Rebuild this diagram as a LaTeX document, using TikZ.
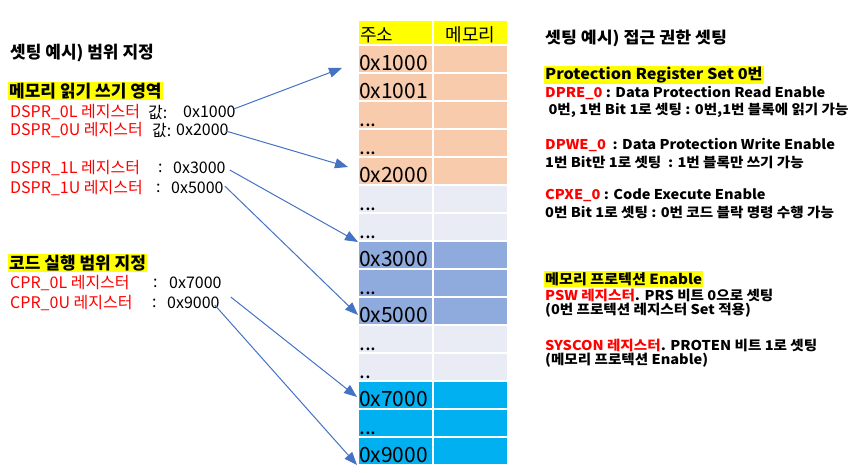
\documentclass[tikz,border=0pt]{standalone}
\usepackage{fontspec}
\setmainfont{Noto Sans CJK KR}
\newfontfamily\widefont[FakeStretch=1.08]{Noto Sans CJK KR}
\usetikzlibrary{arrows.meta}

\definecolor{hilite}{HTML}{FFFF00}
\definecolor{peach}{HTML}{F8CBAD}
\definecolor{pale}{HTML}{E9EBF5}
\definecolor{steel}{HTML}{8FAADC}
\definecolor{cyanblk}{HTML}{00B0F0}
\definecolor{arrowblue}{HTML}{4472C4}
\definecolor{regred}{HTML}{FF0000}

\newcommand\rowdots{...}
\newcommand\rowdotsb{..}

\tikzset{
  cell/.style={draw=none, inner sep=0, minimum width=73pt, minimum height=26pt, anchor=north west},
  celltext/.style={inner sep=0, anchor=base west, font=\fontsize{21}{24}\selectfont},
  lefttext/.style={inner sep=0, anchor=west, font=\fontsize{16}{19}\selectfont},
  lefthead/.style={font=\fontsize{17}{20}\selectfont\bfseries},
  righttext/.style={inner sep=0, anchor=west, font=\widefont\fontsize{13.5}{16}\selectfont\bfseries},
  righthead/.style={font=\widefont\fontsize{15}{18}\selectfont\bfseries},
  marker/.style={fill=hilite, inner sep=1pt, anchor=west},
  link/.style={draw=arrowblue, line width=1pt, -{Triangle[length=13pt,width=10pt]}}
}

\begin{document}
\begin{tikzpicture}[x=1pt,y=-1pt]
    \useasboundingbox (0,0) rectangle (867,473);

    % Table header
    \node[cell, minimum height=23pt, fill=hilite] (haddr) at (359,21) {};
    \node[cell, minimum height=23pt, fill=hilite] (hmem) at (434,21) {};
    \node[inner sep=0, anchor=base west, font=\fontsize{18}{20}\selectfont] at ([xshift=1pt,yshift=3pt]haddr.south west) {주소};
    \node[inner sep=0, anchor=base, font=\fontsize{18}{20}\selectfont] at ([yshift=3pt]hmem.south) {메모리};

    % Table rows
    \foreach \lab/\col [count=\i] in {0x1000/peach, 0x1001/peach, \rowdots/peach, \rowdots/peach, 0x2000/peach,
        \rowdots/pale, \rowdots/pale, 0x3000/steel, \rowdots/steel, 0x5000/steel, \rowdots/pale, \rowdotsb/pale,
        0x7000/cyanblk, \rowdots/cyanblk, 0x9000/cyanblk} {
      \node[cell, fill=\col] (addr\i) at (359,{46+28*(\i-1)}) {};
      \node[cell, fill=\col] (mem\i) at (434,{46+28*(\i-1)}) {};
      \node[celltext] (lab\i) at ([xshift=0pt,yshift=2pt]addr\i.south west) {\lab};
    }

    % Left side: ranges
    \node[lefttext, lefthead] (ltitle) at (10,53) {셋팅 예시) 범위 지정};
    \node[marker, lefthead] (lhead1) at (8,91) {메모리 읽기 쓰기 영역};

    \node[lefttext, text=regred] (r1) at (10,112) {DSPR\_0L 레지스터};
    \node[lefttext] (c1) at (148,112) {값:};
    \node[lefttext] (v1) at (183,112) {0x1000};

    \node[lefttext, text=regred] (r2) at (10,130) {DSPR\_0U 레지스터};
    \node[lefttext] (c2) at (152,130) {값:};
    \node[lefttext] (v2) at (176,130) {0x2000};

    \node[lefttext, text=regred] (r3) at (10,168) {DSPR\_1L 레지스터};
    \node[lefttext] (c3) at (158,168) {:};
    \node[lefttext] (v3) at (173,168) {0x3000};

    \node[lefttext, text=regred] (r4) at (10,188) {DSPR\_1U 레지스터};
    \node[lefttext] (c4) at (156,188) {:};
    \node[lefttext] (v4) at (171,188) {0x5000};

    \node[marker, lefthead] (lhead2) at (8,263) {코드 실행 범위 지정};

    \node[lefttext, text=regred] (r5) at (10,283) {CPR\_0L 레지스터};
    \node[lefttext] (c5) at (153,283) {:};
    \node[lefttext] (v5) at (169,283) {0x7000};

    \node[lefttext, text=regred] (r6) at (10,303) {CPR\_0U 레지스터};
    \node[lefttext] (c6) at (152,303) {:};
    \node[lefttext] (v6) at (167,303) {0x9000};

    % Arrow targets
    \coordinate (t1) at (342,68);
    \coordinate (t2) at (348,167);
    \coordinate (t3) at (358,242);
    \coordinate (t4) at (358,315);
    \coordinate (t5) at (357,397);
    \coordinate (t6) at (357,465);

    \draw[link] ([xshift=-2pt,yshift=3pt]v1.east) -- (t1);
    \draw[link] ([xshift=-3pt,yshift=-1pt]v2.east) -- (t2);
    \draw[link] ([xshift=4pt,yshift=-2pt]v3.east) -- (t3);
    \draw[link] ([xshift=1pt,yshift=2pt]v4.east) -- (t4);
    \draw[link] ([xshift=9pt,yshift=-14pt]v5.east) -- (t5);
    \draw[link] ([xshift=-5pt,yshift=-2pt]v6.east) -- (t6);

    % Right side: access rights
    \node[righttext, righthead, font=\widefont\fontsize{16}{18}\selectfont\bfseries] (rtitle) at (545,38) {셋팅 예시) 접근 권한 셋팅};
    \node[marker, righthead] (rhead1) at (544,75) {Protection Register Set 0번};
    \node[righttext] (p1) at (545,93) {\textcolor{regred}{DPRE\_0} : Data Protection Read Enable};
    \node[righttext] (p2) at (545,110) {\ 0번, 1번 Bit 1로 셋팅 : 0번,1번 블록에 읽기 가능};
    \node[righttext] (p3) at (545,145) {\textcolor{regred}{DPWE\_0}\ \ : Data Protection Write Enable};
    \node[righttext] (p4) at (545,162) {1번 Bit만 1로 셋팅\ \ : 1번 블록만 쓰기 가능};
    \node[righttext] (p5) at (545,195) {\textcolor{regred}{CPXE\_0} : Code Execute Enable};
    \node[righttext] (p6) at (545,212) {0번 Bit 1로 셋팅 : 0번 코드 블락 명령 수행 가능};

    \node[marker, font=\widefont\fontsize{14}{16}\selectfont\bfseries] (rhead2) at (544,279) {메모리 프로텍션 Enable};
    \node[righttext] (q1) at (545,295) {\textcolor{regred}{PSW 레지스터}. PRS 비트 0으로 셋팅};
    \node[righttext] (q2) at (545,310) {(0번 프로텍션 레지스터 Set 적용)};
    \node[righttext] (q3) at (545,345) {\textcolor{regred}{SYSCON 레지스터}. PROTEN 비트 1로 셋팅};
    \node[righttext] (q4) at (545,360) {(메모리 프로텍션 Enable)};
\end{tikzpicture}
\end{document}
